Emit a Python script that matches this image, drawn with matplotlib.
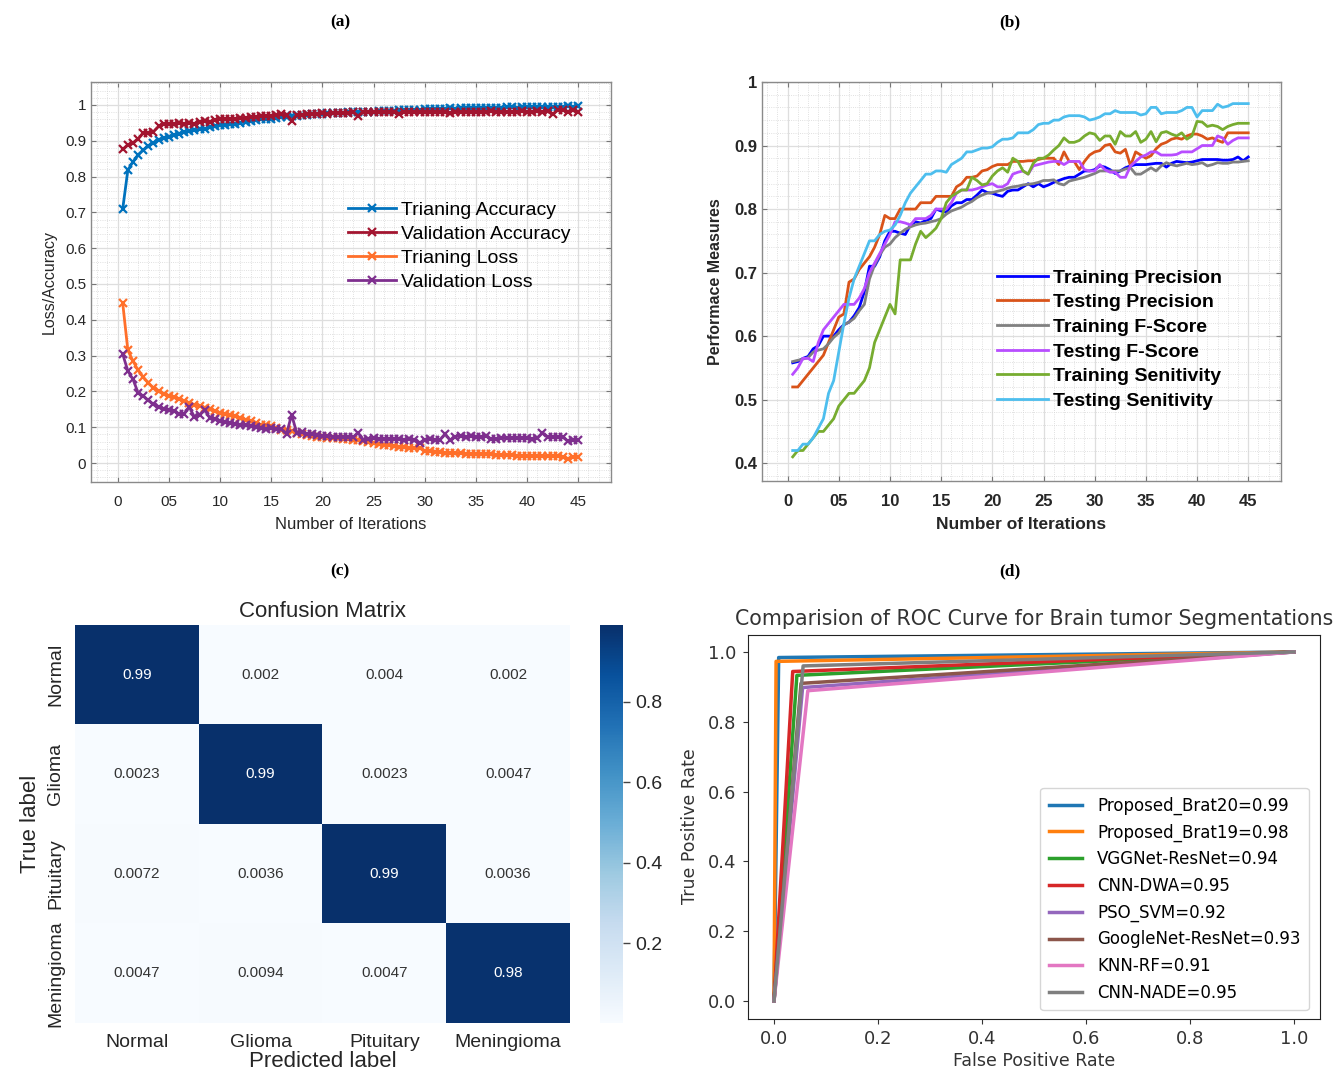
import numpy as np
import matplotlib
matplotlib.use("Agg")
import matplotlib.pyplot as plt
from matplotlib.ticker import MultipleLocator

# ---------------- data ----------------
# (a) accuracy / loss, one point every half iteration
iters_a = np.arange(0.5, 45.01, 0.5)
train_acc = [
    0.710, 0.818, 0.841, 0.860, 0.874, 0.885, 0.894, 0.902, 0.907, 0.911,
    0.915, 0.920, 0.923, 0.926, 0.929, 0.932, 0.934, 0.937, 0.941, 0.944,
    0.945, 0.946, 0.948, 0.950, 0.953, 0.955, 0.958, 0.960, 0.961, 0.962,
    0.963, 0.965, 0.966, 0.968, 0.970, 0.972, 0.973, 0.974, 0.975, 0.976,
    0.977, 0.977, 0.978, 0.978, 0.979, 0.979, 0.980, 0.980, 0.981, 0.981,
    0.982, 0.983, 0.984, 0.984, 0.985, 0.986, 0.986, 0.987, 0.987, 0.988,
    0.988, 0.989, 0.989, 0.989, 0.990, 0.989, 0.990, 0.990, 0.991, 0.990,
    0.991, 0.991, 0.992, 0.991, 0.992, 0.993, 0.993, 0.992, 0.993, 0.994,
    0.994, 0.993, 0.994, 0.995, 0.995, 0.994, 0.995, 0.996, 0.995, 0.996]
val_acc = [
    0.876, 0.888, 0.894, 0.905, 0.922, 0.922, 0.925, 0.940, 0.947, 0.947,
    0.947, 0.949, 0.948, 0.950, 0.948, 0.953, 0.955, 0.953, 0.957, 0.960,
    0.961, 0.962, 0.960, 0.963, 0.964, 0.965, 0.966, 0.969, 0.968, 0.970,
    0.971, 0.974, 0.972, 0.956, 0.972, 0.973, 0.974, 0.975, 0.976, 0.977,
    0.976, 0.977, 0.978, 0.977, 0.978, 0.979, 0.969, 0.979, 0.980, 0.979,
    0.980, 0.979, 0.980, 0.979, 0.976, 0.980, 0.981, 0.980, 0.981, 0.979,
    0.980, 0.981, 0.980, 0.981, 0.977, 0.980, 0.981, 0.980, 0.981, 0.981,
    0.980, 0.981, 0.982, 0.981, 0.980, 0.981, 0.980, 0.981, 0.982, 0.980,
    0.981, 0.982, 0.981, 0.982, 0.974, 0.986, 0.985, 0.981, 0.986, 0.981]
train_loss = [
    0.446, 0.315, 0.285, 0.259, 0.240, 0.224, 0.210, 0.200, 0.193, 0.187,
    0.183, 0.178, 0.173, 0.168, 0.163, 0.159, 0.155, 0.150, 0.145, 0.140,
    0.137, 0.133, 0.130, 0.126, 0.121, 0.117, 0.112, 0.107, 0.105, 0.103,
    0.098, 0.093, 0.091, 0.089, 0.084, 0.080, 0.078, 0.076, 0.074, 0.072,
    0.071, 0.070, 0.069, 0.068, 0.066, 0.065, 0.063, 0.061, 0.058, 0.056,
    0.053, 0.051, 0.049, 0.048, 0.046, 0.044, 0.043, 0.043, 0.042, 0.034,
    0.033, 0.031, 0.030, 0.028, 0.028, 0.027, 0.027, 0.026, 0.026, 0.025,
    0.025, 0.024, 0.024, 0.023, 0.023, 0.022, 0.022, 0.021, 0.021, 0.019,
    0.020, 0.020, 0.019, 0.019, 0.019, 0.019, 0.018, 0.012, 0.016, 0.017]
val_loss = [
    0.304, 0.257, 0.234, 0.196, 0.187, 0.175, 0.164, 0.156, 0.152, 0.148,
    0.146, 0.137, 0.138, 0.156, 0.129, 0.135, 0.148, 0.127, 0.122, 0.117,
    0.114, 0.112, 0.110, 0.107, 0.105, 0.103, 0.101, 0.098, 0.095, 0.098,
    0.096, 0.094, 0.081, 0.135, 0.084, 0.086, 0.082, 0.080, 0.078, 0.076,
    0.076, 0.074, 0.074, 0.072, 0.073, 0.072, 0.084, 0.065, 0.068, 0.069,
    0.068, 0.068, 0.067, 0.068, 0.066, 0.065, 0.066, 0.064, 0.056, 0.065,
    0.066, 0.064, 0.065, 0.081, 0.063, 0.074, 0.075, 0.074, 0.075, 0.073,
    0.074, 0.075, 0.067, 0.066, 0.070, 0.071, 0.069, 0.070, 0.071, 0.070,
    0.068, 0.069, 0.084, 0.073, 0.074, 0.073, 0.072, 0.061, 0.064, 0.063]

# (b) performance measures
iters_b = np.arange(0.5, 45.01, 0.5)
train_prec = [
    0.558, 0.560, 0.565, 0.568, 0.580, 0.585, 0.600, 0.600, 0.600, 0.610,
    0.618, 0.622, 0.632, 0.645, 0.670, 0.710, 0.710, 0.725, 0.750, 0.765,
    0.765, 0.762, 0.760, 0.775, 0.780, 0.778, 0.782, 0.785, 0.800, 0.797,
    0.795, 0.805, 0.810, 0.810, 0.815, 0.815, 0.822, 0.830, 0.826, 0.825,
    0.822, 0.820, 0.828, 0.830, 0.830, 0.835, 0.840, 0.835, 0.840, 0.835,
    0.838, 0.842, 0.845, 0.848, 0.850, 0.850, 0.855, 0.860, 0.860, 0.862,
    0.868, 0.866, 0.862, 0.856, 0.860, 0.865, 0.868, 0.870, 0.870, 0.870,
    0.871, 0.872, 0.872, 0.866, 0.872, 0.875, 0.874, 0.873, 0.874, 0.876,
    0.878, 0.878, 0.878, 0.878, 0.877, 0.877, 0.878, 0.882, 0.876, 0.882]
test_prec = [
    0.520, 0.520, 0.530, 0.540, 0.550, 0.560, 0.570, 0.590, 0.610, 0.630,
    0.635, 0.685, 0.690, 0.705, 0.715, 0.725, 0.740, 0.760, 0.790, 0.785,
    0.785, 0.800, 0.800, 0.800, 0.800, 0.810, 0.810, 0.810, 0.820, 0.820,
    0.820, 0.820, 0.835, 0.840, 0.850, 0.850, 0.852, 0.860, 0.862, 0.867,
    0.870, 0.870, 0.870, 0.875, 0.875, 0.875, 0.876, 0.876, 0.878, 0.880,
    0.880, 0.880, 0.870, 0.890, 0.875, 0.875, 0.862, 0.875, 0.885, 0.890,
    0.892, 0.900, 0.902, 0.890, 0.888, 0.894, 0.868, 0.890, 0.885, 0.880,
    0.884, 0.895, 0.902, 0.905, 0.910, 0.912, 0.910, 0.915, 0.918, 0.918,
    0.915, 0.910, 0.912, 0.908, 0.905, 0.920, 0.920, 0.920, 0.920, 0.920]
train_f = [
    0.560, 0.562, 0.564, 0.566, 0.575, 0.578, 0.580, 0.588, 0.598, 0.605,
    0.618, 0.622, 0.628, 0.640, 0.650, 0.690, 0.712, 0.728, 0.740, 0.745,
    0.755, 0.762, 0.768, 0.772, 0.775, 0.777, 0.778, 0.780, 0.782, 0.785,
    0.792, 0.797, 0.800, 0.803, 0.808, 0.812, 0.818, 0.822, 0.825, 0.826,
    0.828, 0.830, 0.833, 0.835, 0.836, 0.838, 0.839, 0.840, 0.842, 0.845,
    0.845, 0.846, 0.840, 0.838, 0.844, 0.846, 0.848, 0.850, 0.853, 0.856,
    0.860, 0.860, 0.860, 0.860, 0.860, 0.863, 0.865, 0.855, 0.855, 0.860,
    0.865, 0.860, 0.868, 0.873, 0.870, 0.868, 0.870, 0.872, 0.870, 0.871,
    0.873, 0.868, 0.870, 0.873, 0.872, 0.872, 0.874, 0.874, 0.875, 0.876]
test_f = [
    0.540, 0.550, 0.565, 0.565, 0.560, 0.590, 0.610, 0.620, 0.630, 0.640,
    0.650, 0.650, 0.650, 0.660, 0.675, 0.700, 0.715, 0.730, 0.745, 0.760,
    0.780, 0.780, 0.778, 0.775, 0.785, 0.785, 0.785, 0.790, 0.800, 0.800,
    0.800, 0.810, 0.825, 0.830, 0.830, 0.830, 0.832, 0.835, 0.838, 0.840,
    0.835, 0.835, 0.840, 0.855, 0.858, 0.860, 0.855, 0.868, 0.870, 0.872,
    0.874, 0.875, 0.875, 0.870, 0.875, 0.875, 0.875, 0.862, 0.860, 0.860,
    0.870, 0.862, 0.858, 0.858, 0.850, 0.850, 0.868, 0.875, 0.882, 0.885,
    0.890, 0.890, 0.885, 0.885, 0.885, 0.886, 0.890, 0.890, 0.890, 0.895,
    0.900, 0.900, 0.900, 0.915, 0.912, 0.902, 0.908, 0.912, 0.912, 0.912]
train_sens = [
    0.410, 0.420, 0.420, 0.430, 0.440, 0.450, 0.450, 0.460, 0.470, 0.490,
    0.500, 0.510, 0.510, 0.520, 0.530, 0.550, 0.590, 0.610, 0.630, 0.650,
    0.635, 0.720, 0.720, 0.720, 0.745, 0.765, 0.755, 0.762, 0.770, 0.785,
    0.810, 0.820, 0.825, 0.830, 0.830, 0.850, 0.845, 0.838, 0.840, 0.852,
    0.860, 0.865, 0.858, 0.880, 0.875, 0.860, 0.855, 0.872, 0.880, 0.880,
    0.885, 0.893, 0.900, 0.912, 0.905, 0.905, 0.908, 0.915, 0.920, 0.918,
    0.908, 0.915, 0.915, 0.902, 0.922, 0.915, 0.915, 0.922, 0.905, 0.910,
    0.922, 0.906, 0.920, 0.922, 0.918, 0.915, 0.920, 0.910, 0.915, 0.938,
    0.937, 0.930, 0.932, 0.930, 0.925, 0.930, 0.933, 0.935, 0.935, 0.935]
test_sens = [
    0.420, 0.420, 0.430, 0.430, 0.440, 0.455, 0.470, 0.510, 0.530, 0.575,
    0.620, 0.660, 0.690, 0.710, 0.730, 0.750, 0.750, 0.760, 0.765, 0.767,
    0.775, 0.790, 0.810, 0.825, 0.835, 0.845, 0.855, 0.855, 0.860, 0.860,
    0.858, 0.870, 0.875, 0.880, 0.890, 0.890, 0.893, 0.896, 0.896, 0.898,
    0.905, 0.910, 0.910, 0.912, 0.920, 0.920, 0.920, 0.925, 0.933, 0.935,
    0.935, 0.940, 0.940, 0.945, 0.947, 0.947, 0.947, 0.945, 0.940, 0.942,
    0.945, 0.950, 0.950, 0.955, 0.952, 0.952, 0.952, 0.952, 0.948, 0.950,
    0.960, 0.960, 0.950, 0.952, 0.952, 0.952, 0.955, 0.960, 0.960, 0.945,
    0.955, 0.955, 0.955, 0.965, 0.960, 0.962, 0.966, 0.966, 0.966, 0.966]

# (c) confusion matrix
classes = ["Normal", "Glioma", "Pituitary", "Meningioma"]
cm_values = np.array([
    [0.99, 0.002, 0.004, 0.002],
    [0.0023, 0.99, 0.0023, 0.0047],
    [0.0072, 0.0036, 0.99, 0.0036],
    [0.0047, 0.0094, 0.0047, 0.98],
])

# (d) ROC corner points (fpr, tpr) between (0,0) and (1,1)
roc_labels = ["Proposed_Brat20=0.99", "Proposed_Brat19=0.98", "VGGNet-ResNet=0.94",
              "CNN-DWA=0.95", "PSO_SVM=0.92", "GoogleNet-ResNet=0.93",
              "KNN-RF=0.91", "CNN-NADE=0.95"]
roc_fpr = [0.009, 0.004, 0.044, 0.036, 0.055, 0.052, 0.065, 0.056]
roc_tpr = [0.984, 0.973, 0.933, 0.944, 0.898, 0.910, 0.889, 0.960]

W, H = 1337, 1072
fig = plt.figure(figsize=(W / 100, H / 100), dpi=100)


def box(l, t, r, b):
    # pixel box -> figure fraction
    return [l / W, 1 - b / H, (r - l) / W, (b - t) / H]


def matlab_axes(ax):
    ax.xaxis.set_minor_locator(MultipleLocator(1))
    ax.yaxis.set_minor_locator(MultipleLocator(0.02))
    ax.grid(True, which="major", color="#dedede", lw=0.9)
    ax.grid(True, which="minor", color="#d6d6d6", lw=0.6, ls=":")
    ax.set_axisbelow(True)
    ax.tick_params(which="both", direction="in", top=True, right=True, color="#777777")
    ax.tick_params(which="minor", length=0)
    ax.tick_params(axis="x", pad=9)
    for s in ax.spines.values():
        s.set_color("#8a8a8a")
        s.set_linewidth(1.0)


xt = [0, 5, 10, 15, 20, 25, 30, 35, 40, 45]
xt_lab = ["0", "05", "10", "15", "20", "25", "30", "35", "40", "45"]

# ---------------- (a) ----------------
ax = fig.add_axes(box(91, 82, 611, 482))
sans = "Liberation Sans"
mk = dict(lw=2, ms=5.5, mew=1.6)
ax.plot(iters_a, train_acc, "-x", color="#0072BD", label="Trianing Accuracy", **mk)
ax.plot(iters_a, val_acc, "-x", color="#A2142F", label="Validation Accuracy", **mk)
ax.plot(iters_a, train_loss, "-x", color="#FF6F2A", label="Trianing Loss", **mk)
ax.plot(iters_a, val_loss, "-x", color="#7E2F8E", label="Validation Loss", **mk)
ax.set_xlim(-2.6, 48.2)
ax.set_ylim(-0.053, 1.064)
ax.set_xticks(xt)
ax.set_xticklabels(xt_lab)
ax.set_yticks(np.round(np.arange(0, 1.01, 0.1), 1))
ax.set_yticklabels(["0", "0.1", "0.2", "0.3", "0.4", "0.5", "0.6", "0.7", "0.8", "0.9", "1"])
matlab_axes(ax)
for lab in ax.get_xticklabels() + ax.get_yticklabels():
    lab.set_family(sans)
    lab.set_fontsize(11)
    lab.set_color("#262626")
ax.set_xlabel("Number of Iterations", family=sans, fontsize=12, color="#262626", labelpad=6)
ax.set_ylabel("Loss/Accuracy", family=sans, fontsize=11.5, color="#262626", labelpad=6)
ax.legend(loc="upper left", bbox_to_anchor=(0.46, 0.745), frameon=False,
          prop={"family": sans, "size": 14}, handlelength=2.5, numpoints=1,
          labelspacing=0.33, handletextpad=0.25)

# ---------------- (b) ----------------
bx = fig.add_axes(box(762, 82, 1281, 481))
bx.plot(iters_b, train_prec, color="#0000FF", lw=2, label="Training Precision")
bx.plot(iters_b, test_prec, color="#D95319", lw=2, label="Testing Precision")
bx.plot(iters_b, train_f, color="#808080", lw=2, label="Training F-Score")
bx.plot(iters_b, test_f, color="#B84DFF", lw=2, label="Testing F-Score")
bx.plot(iters_b, train_sens, color="#77AC30", lw=2, label="Training Senitivity")
bx.plot(iters_b, test_sens, color="#4DBEEE", lw=2, label="Testing Senitivity")
bx.set_xlim(-2.5, 48.2)
bx.set_ylim(0.372, 1.0)
bx.set_xticks(xt)
bx.set_xticklabels(xt_lab)
bx.set_yticks([0.4, 0.5, 0.6, 0.7, 0.8, 0.9, 1.0])
bx.set_yticklabels(["0.4", "0.5", "0.6", "0.7", "0.8", "0.9", "1"])
matlab_axes(bx)
for lab in bx.get_xticklabels() + bx.get_yticklabels():
    lab.set_family(sans)
    lab.set_fontsize(12)
    lab.set_fontweight("bold")
    lab.set_color("#262626")
bx.set_xlabel("Number of Iterations", family=sans, fontsize=12.5, fontweight="bold",
              color="#262626", labelpad=6)
bx.set_ylabel("Performace Measures", family=sans, fontsize=11.5, fontweight="bold",
              color="#262626", labelpad=8)
bx.legend(loc="upper left", bbox_to_anchor=(0.42, 0.575), frameon=False,
          prop={"family": sans, "size": 14, "weight": "bold"}, handlelength=2.6,
          labelspacing=0.36, handletextpad=0.25)

# ---------------- (c) ----------------
cx = fig.add_axes(box(75, 625, 570, 1023))
im = cx.imshow(cm_values, cmap="Blues", vmin=cm_values.min(), vmax=cm_values.max(),
               aspect="auto", interpolation="nearest")
for i in range(cm_values.shape[0]):
    for j in range(cm_values.shape[1]):
        v = cm_values[i, j]
        cx.text(j, i, f"{v:.2g}", ha="center", va="center", family=sans, fontsize=11,
                color="white" if v > 0.5 else "#333333")
cx.set_xticks(range(len(classes)))
cx.set_xticklabels(classes, family=sans, fontsize=14, color="#262626")
cx.set_yticks(range(len(classes)))
cx.set_yticklabels(classes, family=sans, fontsize=14, color="#262626", rotation=90, va="center")
cx.tick_params(length=0, pad=8)
for s in cx.spines.values():
    s.set_visible(False)
cx.set_xlabel("Predicted label", family=sans, fontsize=16, color="#262626", labelpad=0)
cx.set_ylabel("True label", family=sans, fontsize=16, color="#262626", labelpad=4)
cx.set_title("Confusion Matrix", family=sans, fontsize=16, color="#262626", pad=6)
cax = fig.add_axes(box(600, 625, 623, 1023))
cb = fig.colorbar(im, cax=cax)
cb.outline.set_visible(False)
cb.set_ticks([0.2, 0.4, 0.6, 0.8])
cb.ax.tick_params(labelsize=14, length=5, width=1, color="#444444", labelcolor="#262626")
for lab in cb.ax.get_yticklabels():
    lab.set_family(sans)

# ---------------- (d) ----------------
dx = fig.add_axes(box(748, 634.5, 1320, 1018.5))
for lab, f, t in zip(roc_labels, roc_fpr, roc_tpr):
    dx.plot([0, f, 1], [0, t, 1], lw=2.5, label=lab)
dx.set_xlim(-0.05, 1.05)
dx.set_ylim(-0.05, 1.05)
dx.set_xticks([0, 0.2, 0.4, 0.6, 0.8, 1.0])
dx.set_yticks([0, 0.2, 0.4, 0.6, 0.8, 1.0])
dx.tick_params(labelsize=13, colors="#333333", pad=5)
dx.set_xlabel("False Positive Rate", fontsize=12.5, color="#333333", labelpad=3)
dx.set_ylabel("True Positive Rate", fontsize=12.5, color="#333333", labelpad=6)
dx.set_title("Comparision of ROC Curve for Brain tumor Segmentations", fontsize=14.8,
             color="#333333", pad=7)
dx.legend(loc="lower right", fontsize=12, labelspacing=0.52, handlelength=2.0,
          borderpad=0.5, handletextpad=0.9, bbox_to_anchor=(0.995, 0.0))
for s in dx.spines.values():
    s.set_color("#222222")

# panel letters
serif = "Liberation Serif"
for txt, px, py in [("(a)", 340, 22), ("(b)", 1010, 22), ("(c)", 340, 571), ("(d)", 1010, 571)]:
    fig.text(px / W, 1 - py / H, txt, ha="center", va="center", family=serif,
             fontweight="bold", fontsize=12.5)

fig.savefig("out.png", dpi=100)
